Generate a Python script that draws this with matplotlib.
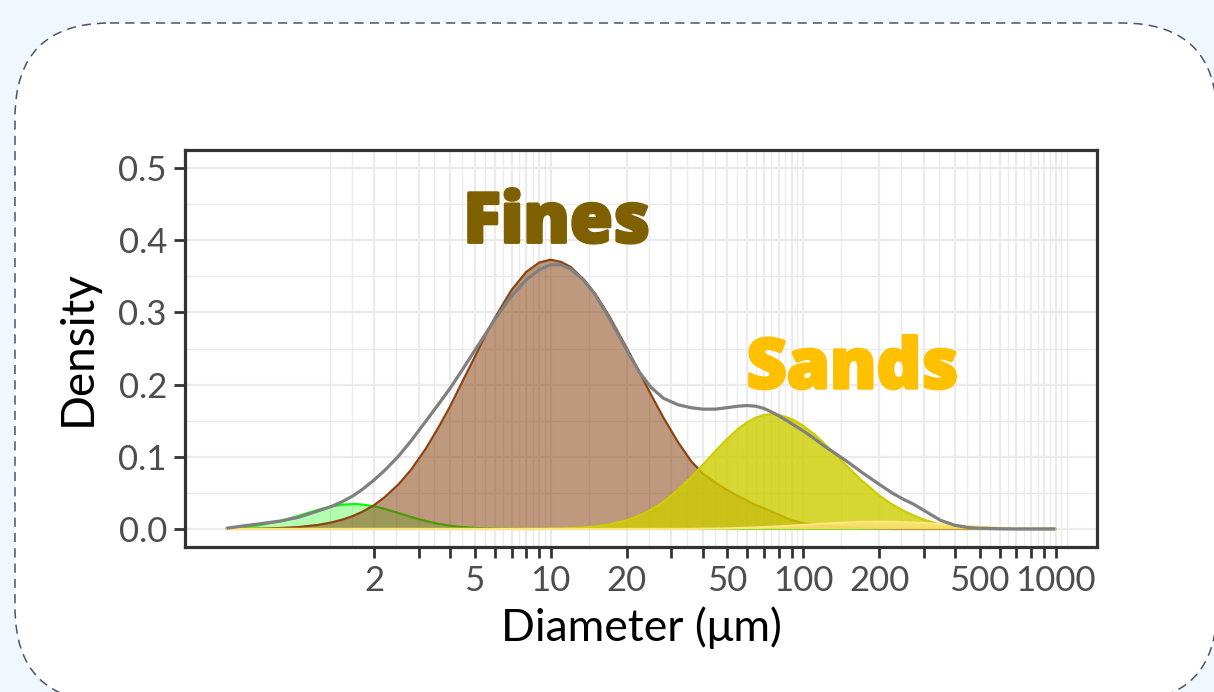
import numpy as np
import matplotlib
matplotlib.use('Agg')
import matplotlib.pyplot as plt
import matplotlib.patheffects as pe
from matplotlib.patches import FancyBboxPatch
from matplotlib.ticker import NullFormatter

plt.rcParams['font.family'] = ['Lato', 'DejaVu Sans']

# ---- data (density on log10 diameter) ----
diameter = [0.52, 0.6, 0.7, 0.85, 1, 1.2, 1.35, 1.5, 1.65, 1.8, 2, 2.2, 2.5,
            2.8, 3.2, 3.6, 4, 4.5, 5, 5.5, 6, 7, 8, 9, 10, 11, 12, 13.5, 15,
            17, 20, 22.5, 25, 28, 32, 36, 40, 45, 50, 55, 60, 65, 70, 75, 80,
            90, 100, 110, 120, 135, 150, 170, 200, 225, 250, 275, 300, 350,
            400, 450, 500, 600, 700, 850, 1000]
total = [0.001, 0.004, 0.007, 0.011, 0.016, 0.025, 0.031, 0.038, 0.046, 0.055,
         0.068, 0.081, 0.101, 0.122, 0.149, 0.173, 0.195, 0.222, 0.247, 0.269,
         0.290, 0.323, 0.345, 0.359, 0.366, 0.366, 0.360, 0.345, 0.325, 0.293,
         0.248, 0.217, 0.196, 0.181, 0.172, 0.168, 0.166, 0.166, 0.168, 0.170,
         0.171, 0.170, 0.167, 0.162, 0.157, 0.146, 0.136, 0.126, 0.116, 0.104,
         0.093, 0.079, 0.062, 0.050, 0.041, 0.034, 0.026, 0.012, 0.005, 0.002,
         0.001, 0.0003, 0.0, 0.0, 0.0]
comp_green = [0.0011, 0.0024, 0.0051, 0.011, 0.018, 0.0265, 0.0311, 0.0337,
              0.0345, 0.0338, 0.0313, 0.0278, 0.022, 0.0166, 0.011, 0.007,
              0.0045, 0.0025, 0.0014, 0.0008, 0.0004, 0.00015, 0.00005, 0, 0,
              0, 0, 0, 0, 0, 0, 0, 0, 0, 0, 0, 0, 0, 0, 0, 0, 0, 0, 0, 0, 0, 0,
              0, 0, 0, 0, 0, 0, 0, 0, 0, 0, 0, 0, 0, 0, 0, 0, 0, 0]
comp_fines = [0.0001, 0.0002, 0.0005, 0.0013, 0.0026, 0.0056, 0.0089, 0.013,
              0.018, 0.024, 0.033, 0.044, 0.062, 0.082, 0.111, 0.141, 0.170,
              0.206, 0.238, 0.267, 0.292, 0.331, 0.356, 0.369, 0.373, 0.370,
              0.363, 0.346, 0.326, 0.296, 0.251, 0.217, 0.186, 0.154, 0.120,
              0.094, 0.077, 0.064, 0.054, 0.046, 0.039, 0.033, 0.029, 0.024,
              0.020, 0.012, 0.008, 0.006, 0.004, 0.003, 0.002, 0.001, 0.0005,
              0, 0, 0, 0, 0, 0, 0, 0, 0, 0, 0, 0]
comp_sands = [0, 0, 0, 0, 0, 0, 0, 0, 0, 0, 0, 0, 0, 0, 0, 0, 0, 0, 0, 0, 0,
              0, 0, 0, 0.0004, 0.0007, 0.0011, 0.002, 0.0034, 0.006, 0.0119,
              0.0185, 0.0265, 0.0376, 0.0541, 0.0714, 0.0885, 0.108, 0.1246,
              0.1379, 0.1477, 0.1542, 0.1579, 0.159, 0.1582, 0.1524, 0.1431,
              0.1319, 0.120, 0.1024, 0.0862, 0.0677, 0.0466, 0.0341, 0.0251,
              0.0185, 0.013, 0.006, 0.003, 0.0015, 0.0007, 0.0002, 0, 0, 0]
comp_coarse = [0, 0, 0, 0, 0, 0, 0, 0, 0, 0, 0, 0, 0, 0, 0, 0, 0, 0, 0, 0, 0,
               0, 0, 0, 0, 0, 0, 0, 0, 0, 0, 0, 0, 0, 0, 0, 0.0003, 0.0005,
               0.0008, 0.0012, 0.0016, 0.002, 0.0025, 0.003, 0.0035, 0.0045,
               0.0055, 0.0064, 0.0072, 0.0082, 0.009, 0.0097, 0.010, 0.0098,
               0.0094, 0.0088, 0.0081, 0.0066, 0.0052, 0.0039, 0.0029, 0.0015,
               0.0007, 0.0002, 0.0]

x_breaks = [2, 3, 4, 5, 6, 7, 8, 9, 10, 20, 30, 40, 50, 60, 70, 80, 90, 100,
            200, 300, 400, 500, 600, 700, 800, 900, 1000]
x_shown = ['2', '5', '10', '20', '50', '100', '200', '500', '1000']
y_breaks = [0.0, 0.1, 0.2, 0.3, 0.4, 0.5]
y_labels = ['0.0', '0.1', '0.2', '0.3', '0.4', '0.5']

fig = plt.figure(figsize=(12.14, 6.92), dpi=100)
fig.patch.set_facecolor('#F0F7FE')

# card behind the chart
bg = fig.add_axes([0, 0, 1, 1])
bg.set_xlim(0, 1214)
bg.set_ylim(692, 0)
bg.axis('off')
bg.add_patch(FancyBboxPatch((15, 23), 1202, 679,
                            boxstyle='round,pad=0,rounding_size=95',
                            fc='white', ec='#4A5568', lw=1.1,
                            ls=(0, (6, 4))))

ax = fig.add_axes([185 / 1214, 145 / 692, 912 / 1214, 397 / 692])
ax.set_xscale('log')

d = np.array(diameter)
layers = [
    (comp_green, '#00FF00', 0.3),
    (comp_fines, '#8B4513', 0.55),
    (comp_sands, '#CDCD00', 0.8),
    (comp_coarse, '#FFE57F', 0.75),
]
for vals, col, a in layers:
    ax.fill_between(d, vals, 0, color=col, alpha=a, lw=0, zorder=2)
    ax.plot(d, vals, color=col, lw=1.6, zorder=2, solid_capstyle='round',
            solid_joinstyle='round')
ax.plot(d, total, color='#808080', lw=2.3, zorder=3, solid_capstyle='butt',
        solid_joinstyle='round')

# limits with ggplot style 5% expansion
lo, hi = np.log10(d.min()), np.log10(d.max())
pad = 0.05 * (hi - lo)
ax.set_xlim(10 ** (lo - pad), 10 ** (hi + pad))
ax.set_ylim(-0.025, 0.525)

ax.set_xticks(x_breaks, labels=[str(b) if str(b) in x_shown else '' for b in x_breaks])
lb = list(np.log10(x_breaks))
ext = [2 * lb[0] - lb[1]] + lb + [2 * lb[-1] - lb[-2]]
minor_x = [10 ** ((a + b) / 2) for a, b in zip(ext[:-1], ext[1:])] + [10 ** ext[0], 10 ** ext[-1]]
ax.set_xticks(minor_x, minor=True)
ax.xaxis.set_minor_formatter(NullFormatter())
ax.set_yticks(y_breaks, labels=y_labels)
ax.set_yticks([0.05, 0.15, 0.25, 0.35, 0.45], minor=True)

ax.tick_params(which='major', length=8, width=2.0, color='#333333',
               labelsize=25, labelcolor='#4D4D4D', pad=5)
ax.tick_params(which='minor', length=0)
ax.grid(which='major', color='#EBEBEB', lw=1.6)
ax.grid(which='minor', color='#EBEBEB', lw=1.0)
ax.set_axisbelow(True)
for s in ax.spines.values():
    s.set_color('#333333')
    s.set_linewidth(2.3)

ax.set_xlabel('Diameter (μm)', fontsize=32, color='black', labelpad=7)
ax.set_ylabel('Density', fontsize=33, color='black', labelpad=14)

for label, xpos, ypos, col in [('Fines', 10.56, 0.397, '#7F6000'),
                               ('Sands', 157, 0.195, '#FFC000')]:
    ax.text(xpos, ypos, label, color=col, fontsize=50, fontweight=800,
            family=['Open Sans', 'DejaVu Sans'], ha='center', va='baseline',
            zorder=4, path_effects=[pe.withStroke(linewidth=2.2, foreground=col)])

fig.savefig('out.png', dpi=100, facecolor=fig.get_facecolor())
